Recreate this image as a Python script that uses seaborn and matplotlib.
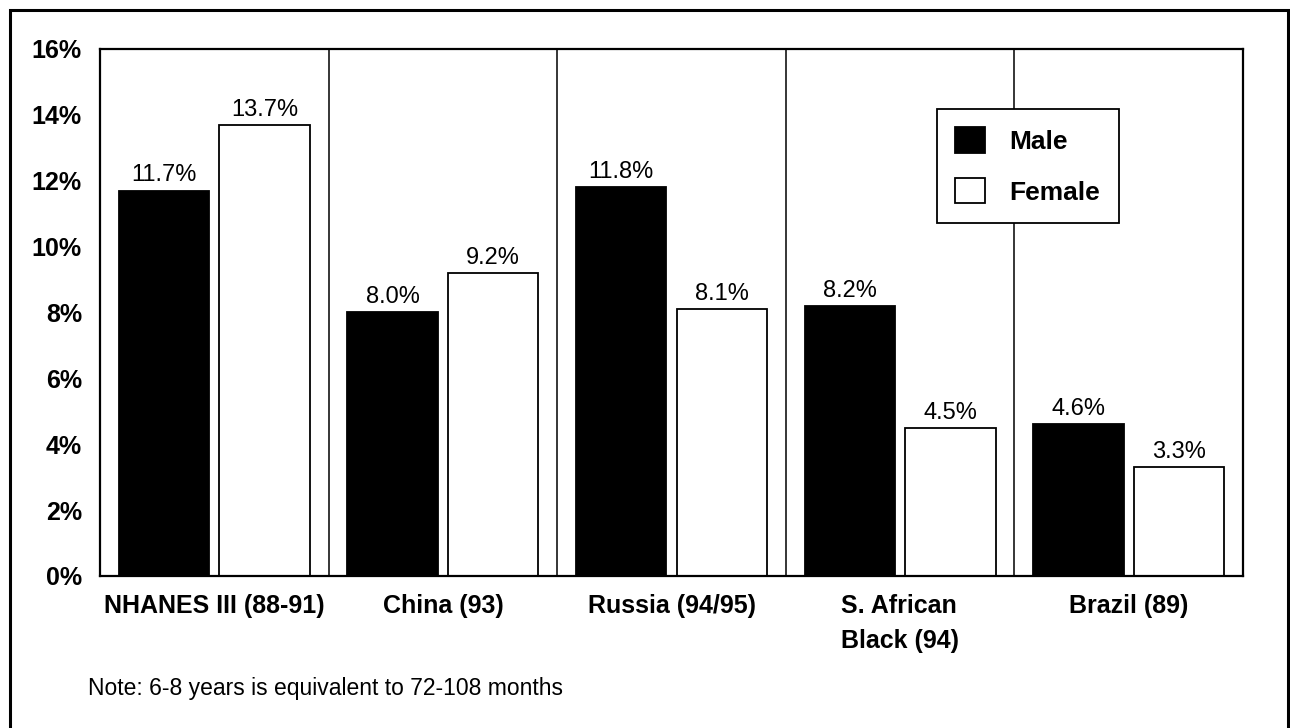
import pandas as pd
import matplotlib.pyplot as plt
import seaborn as sns
from matplotlib.patches import Rectangle

#%%
# data
groups = ['NHANES III (88-91)', 'China (93)', 'Russia (94/95)', 'S. African\nBlack (94)', 'Brazil (89)']
male = [11.7, 8.0, 11.8, 8.2, 4.6]
female = [13.7, 9.2, 8.1, 4.5, 3.3]
yticks = [0, 2, 4, 6, 8, 10, 12, 14, 16]

df = pd.DataFrame({
    'group': groups * 2,
    'sex': ['Male'] * len(groups) + ['Female'] * len(groups),
    'value': male + female,
})

#%%
sns.set_style('white')
plt.rcParams['font.family'] = ['Liberation Sans', 'DejaVu Sans']
plt.rcParams['text.color'] = 'black'

fig = plt.figure(figsize=(12.9, 7.28), dpi=100)
ax = fig.add_axes([0.0775, 0.2088, 0.8861, 0.7239])

sns.barplot(data=df, x='group', y='value', hue='sex', order=groups,
            hue_order=['Male', 'Female'],
            palette={'Male': 'black', 'Female': 'white'},
            edgecolor='black', linewidth=1.3, width=0.88, gap=0.1,
            errorbar=None, ax=ax)

for c in ax.containers:
    ax.bar_label(c, fmt='%.1f%%', padding=3, fontsize=17, color='black')

# separators between the groups
for i in range(1, len(groups)):
    ax.axvline(i - 0.5, color='black', lw=1.1, zorder=0)

ax.set_xlim(-0.5, len(groups) - 0.5)
ax.set_ylim(0, 16)
ax.set_yticks(yticks)
ax.set_yticklabels([f'{v}%' for v in yticks], fontsize=18, fontweight='bold')
ax.set_xticks(range(len(groups)))
ax.set_xticklabels(groups, fontsize=18, fontweight='bold',
                   multialignment='left', linespacing=1.6)
ax.tick_params(axis='both', length=0, labelcolor='black')
ax.tick_params(axis='y', pad=13)
ax.tick_params(axis='x', pad=13)
ax.set_xlabel('')
ax.set_ylabel('')
for s in ax.spines.values():
    s.set_color('black')
    s.set_linewidth(1.6)

leg = ax.legend(loc='upper left', bbox_to_anchor=(937 / 1290, 1 - 109 / 728),
                bbox_transform=fig.transFigure,
                prop={'weight': 'bold', 'size': 19}, frameon=True,
                fancybox=False, edgecolor='black', framealpha=1,
                handlelength=1.1, handleheight=1.1, labelspacing=0.9,
                handletextpad=0.95, borderpad=0.7, borderaxespad=0)
leg.get_frame().set_linewidth(1.3)
for h in leg.legend_handles:
    h.set_edgecolor('black')
    h.set_linewidth(1.3)

fig.text(88 / 1290, 1 - 688 / 728, 'Note: 6-8 years is equivalent to 72-108 months',
         fontsize=16.5, va='center', color='black')

# outer frame
fig.patches.append(Rectangle((10 / 1290, -0.02), 1278 / 1290, 1 - 10 / 728 + 0.02,
                             transform=fig.transFigure, fill=False,
                             edgecolor='black', lw=2.2))

fig.savefig('out.png', dpi=100)
